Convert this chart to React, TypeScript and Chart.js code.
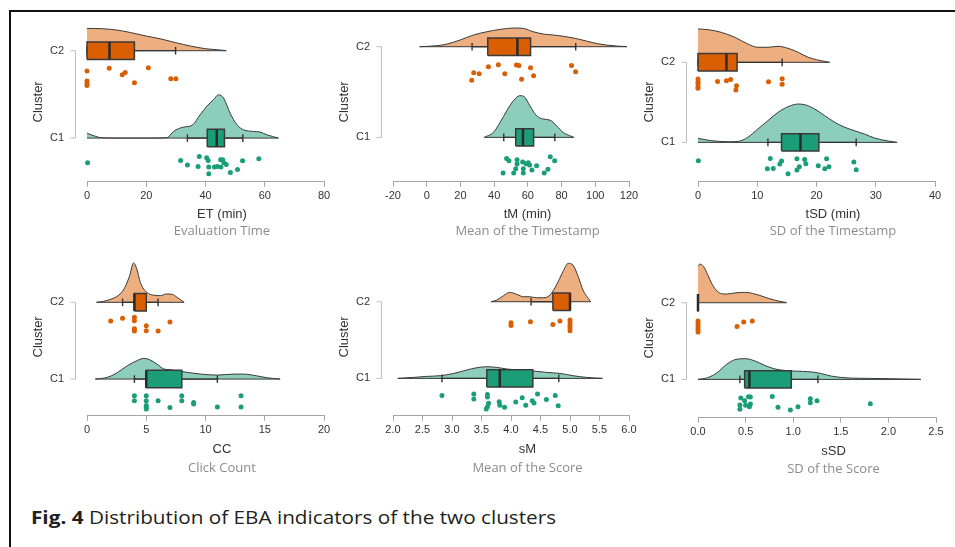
import React, { useEffect, useRef } from "react";
import { Chart, registerables } from "chart.js";
Chart.register(...registerables);

type Pt = [number, number];

// ---------- Panel 1: Evaluation Time ----------
const ET_TICKS = [0, 20, 40, 60, 80];
const ET_C2_DENS: Pt[] = [[0, 0.256], [5, 0.252], [10, 0.237], [15, 0.206], [20, 0.168], [25, 0.134], [30, 0.092], [35, 0.053], [40, 0.023], [45, 0.008], [47, 0]];
const ET_C2_BOX = [0, 0, 7.6, 16.0, 29.9]; // whisker low, q1, median, q3, whisker high
const ET_C2_X = [0, 0, 0, 0, 7.5, 11.9, 12.9, 20.7, 16.0, 28.3, 30.0];
const ET_C2_J = [0.233, 0.347, 0.374, 0.397, 0.202, 0.275, 0.248, 0.195, 0.366, 0.32, 0.32];
const ET_C1_DENS: Pt[] = [[0, 0.057], [2, 0.03], [5, 0.004], [10, 0], [20, 0], [27, 0.004], [29.2, 0.076], [32.6, 0.126], [35.4, 0.145], [38.2, 0.267], [40.4, 0.363], [42.7, 0.439], [44.4, 0.496], [46.1, 0.458], [48.3, 0.286], [50.6, 0.153], [52.8, 0.095], [56.2, 0.076], [58.4, 0.069], [60.7, 0.038], [64.6, 0]];
const ET_C1_BOX = [33.9, 40.6, 43.8, 46.4, 52.6];
const ET_C1_X = [0.2, 31.6, 33.9, 37.9, 37.5, 40.4, 40.9, 41.1, 41.1, 43.0, 44.0, 45.1, 45.8, 46.2, 47.0, 45.2, 48.4, 50.8, 52.5, 58.0];
const ET_C1_J = [0.282, 0.256, 0.309, 0.21, 0.324, 0.225, 0.256, 0.332, 0.408, 0.332, 0.324, 0.248, 0.248, 0.282, 0.302, 0.332, 0.393, 0.359, 0.26, 0.237];

// ---------- Panel 2: Mean of the Timestamp ----------
const TM_TICKS = [-20, 0, 20, 40, 60, 80, 100, 120];
const TM_C2_DENS: Pt[] = [[-4.2, 0], [6, 0.011], [12, 0.029], [19.8, 0.074], [27.7, 0.129], [35.6, 0.165], [43.5, 0.191], [51.4, 0.206], [57.3, 0.202], [63.2, 0.165], [69.1, 0.14], [75, 0.129], [82.9, 0.11], [90.8, 0.081], [98.7, 0.044], [106.6, 0.018], [118.8, 0]];
const TM_C2_BOX = [26.9, 36.2, 53.8, 61.6, 88.4];
const TM_C2_X = [26.7, 27.9, 31.1, 36.6, 42.5, 46.3, 53.2, 54.7, 56.3, 61.6, 63.4, 85.9, 88.3];
const TM_C2_J = [0.371, 0.287, 0.298, 0.221, 0.199, 0.298, 0.202, 0.206, 0.36, 0.232, 0.32, 0.206, 0.276];
const TM_C1_DENS: Pt[] = [[34.1, 0], [39.6, 0.055], [43.5, 0.165], [47.5, 0.294], [51.4, 0.404], [55.3, 0.46], [58.3, 0.441], [61.2, 0.349], [65.2, 0.239], [69.1, 0.202], [73, 0.191], [77, 0.129], [80.9, 0.055], [84.9, 0.018], [87.3, 0]];
const TM_C1_BOX = [45.7, 52.8, 57.1, 63.4, 76.0];
const TM_C1_X = [47.4, 48.8, 53.6, 45.3, 51.6, 52.8, 53.6, 56.9, 57.3, 57.3, 58.9, 60.2, 61.0, 62.4, 65.2, 69.7, 71.9, 73.3, 75.9];
const TM_C1_J = [0.232, 0.257, 0.246, 0.393, 0.393, 0.346, 0.294, 0.272, 0.346, 0.393, 0.29, 0.279, 0.305, 0.36, 0.313, 0.393, 0.353, 0.213, 0.257];

// ---------- Panel 3: SD of the Timestamp ----------
const TSD_TICKS = [0, 10, 20, 30, 40];
const TSD_C2_DENS: Pt[] = [[0, 0.417], [1.7, 0.408], [3.9, 0.375], [6.2, 0.313], [8.4, 0.229], [10.1, 0.188], [11.8, 0.188], [13.5, 0.2], [15.2, 0.175], [16.9, 0.125], [18.6, 0.063], [20, 0.033], [22.2, 0]];
const TSD_C2_BOX = [0, 0, 4.8, 6.6, 14.2];
const TSD_C2_X = [0, 0, 0, 0, 0, 3.3, 4.8, 5.5, 6.5, 6.4, 11.9, 14.2, 14.2];
const TSD_C2_J = [0.208, 0.242, 0.271, 0.304, 0.325, 0.238, 0.229, 0.213, 0.292, 0.346, 0.242, 0.204, 0.275];
const TSD_C1_DENS: Pt[] = [[0, 0.05], [2.3, 0.021], [5.1, 0.008], [6.8, 0.0125], [8.4, 0.063], [10.1, 0.167], [11.8, 0.271], [13.5, 0.375], [15.2, 0.446], [16.9, 0.479], [18, 0.471], [19.7, 0.417], [21.4, 0.333], [23.1, 0.25], [24.8, 0.188], [26.4, 0.146], [28.1, 0.104], [29.8, 0.054], [32.1, 0.017], [33.6, 0]];
const TSD_C1_BOX = [11.8, 14.1, 17.3, 20.4, 26.7];
const TSD_C1_X = [0.06, 12.2, 11.7, 12.7, 13.8, 14.1, 15.2, 16.7, 16.7, 17.1, 18.0, 18.2, 20.3, 21.7, 21.4, 22.1, 26.3, 26.7];
const TSD_C1_J = [0.229, 0.2, 0.329, 0.325, 0.271, 0.233, 0.392, 0.204, 0.346, 0.304, 0.213, 0.267, 0.292, 0.204, 0.329, 0.304, 0.246, 0.342];

// ---------- Panel 4: Click Count ----------
const CC_TICKS = [0, 5, 10, 15, 20];
const CC_C2_DENS: Pt[] = [[0.8, 0], [1.4, 0.013], [2.2, 0.052], [2.8, 0.109], [3.2, 0.196], [3.6, 0.348], [3.93, 0.513], [4.2, 0.435], [4.5, 0.261], [4.9, 0.152], [5.5, 0.096], [6.2, 0.087], [6.7, 0.109], [7.2, 0.104], [7.6, 0.065], [8.2, 0]];
const CC_C2_BOX = [3, 4, 4, 5, 6];
const CC_C2_X = [2, 3, 4, 4, 4, 4, 5, 5, 6, 7];
const CC_C2_J = [0.243, 0.209, 0.196, 0.239, 0.343, 0.374, 0.304, 0.37, 0.374, 0.257];
const CC_C1_DENS: Pt[] = [[0.7, 0], [1.7, 0.022], [2.5, 0.078], [3.4, 0.174], [4.2, 0.239], [4.8, 0.27], [5.3, 0.252], [5.9, 0.196], [6.5, 0.13], [7, 0.122], [8.1, 0.096], [9.6, 0.065], [11, 0.052], [12.4, 0.065], [13.2, 0.065], [14.3, 0.043], [15.2, 0.017], [16.3, 0]];
const CC_C1_BOX = [4, 5, 5, 8, 11];
const CC_C1_X = [4, 4, 5, 5, 5, 5, 5, 6, 7, 8, 8, 9, 9, 11, 13, 13];
const CC_C1_J = [0.217, 0.283, 0.217, 0.283, 0.343, 0.37, 0.391, 0.283, 0.37, 0.217, 0.283, 0.304, 0.326, 0.365, 0.217, 0.365];

// ---------- Panel 5: Mean of the Score ----------
const SM_TICKS = [2.0, 2.5, 3.0, 3.5, 4.0, 4.5, 5.0, 5.5, 6.0];
const SM_C2_DENS: Pt[] = [[3.66, 0], [3.76, 0.022], [3.87, 0.078], [3.98, 0.122], [4.1, 0.096], [4.21, 0.065], [4.32, 0.065], [4.43, 0.052], [4.55, 0.052], [4.66, 0.087], [4.77, 0.217], [4.88, 0.391], [4.97, 0.5], [5.05, 0.478], [5.14, 0.326], [5.22, 0.152], [5.31, 0.043], [5.35, 0]];
const SM_C2_BOX = [4.34, 4.71, 5.0, 5.0, 5.0];
const SM_C2_X = [4.0, 4.0, 4.33, 4.71, 4.83, 5, 5, 5, 5, 5];
const SM_C2_J = [0.274, 0.309, 0.261, 0.296, 0.252, 0.239, 0.274, 0.309, 0.343, 0.378];
const SM_C1_DENS: Pt[] = [[2.08, 0], [2.35, 0.013], [2.57, 0.026], [2.8, 0.035], [3.03, 0.065], [3.25, 0.109], [3.42, 0.139], [3.59, 0.152], [3.76, 0.143], [3.93, 0.122], [4.15, 0.109], [4.38, 0.096], [4.6, 0.078], [4.83, 0.065], [5.05, 0.035], [5.28, 0.013], [5.55, 0]];
const SM_C1_BOX = [2.83, 3.59, 3.81, 4.37, 4.81];
const SM_C1_X = [2.83, 3.37, 3.37, 3.6, 3.6, 3.62, 3.58, 3.6, 3.8, 3.81, 3.89, 4.08, 4.19, 4.25, 4.36, 4.39, 4.45, 4.6, 4.75, 4.8];
const SM_C1_J = [0.222, 0.204, 0.27, 0.209, 0.243, 0.326, 0.4, 0.37, 0.304, 0.352, 0.378, 0.309, 0.252, 0.352, 0.291, 0.322, 0.204, 0.274, 0.222, 0.357];

// ---------- Panel 6: SD of the Score ----------
const SSD_TICKS = [0.0, 0.5, 1.0, 1.5, 2.0, 2.5];
const SSD_C2_DENS: Pt[] = [[0, 0.478], [0.02, 0.504], [0.06, 0.47], [0.1, 0.37], [0.15, 0.239], [0.2, 0.152], [0.25, 0.117], [0.3, 0.113], [0.4, 0.13], [0.5, 0.135], [0.6, 0.113], [0.7, 0.074], [0.8, 0.035], [0.9, 0.009], [0.93, 0]];
const SSD_C2_BOX = [0, 0, 0, 0, 0];
const SSD_C2_X = [0, 0, 0, 0, 0, 0.41, 0.48, 0.57];
const SSD_C2_J = [0.239, 0.278, 0.313, 0.348, 0.383, 0.309, 0.252, 0.239];
const SSD_C1_DENS: Pt[] = [[0, 0], [0.1, 0.022], [0.2, 0.087], [0.3, 0.196], [0.4, 0.261], [0.5, 0.27], [0.6, 0.239], [0.7, 0.183], [0.8, 0.139], [0.9, 0.117], [1.0, 0.109], [1.1, 0.104], [1.2, 0.096], [1.3, 0.074], [1.4, 0.043], [1.5, 0.026], [1.6, 0.017], [1.8, 0.013], [2.0, 0.009], [2.2, 0.004], [2.34, 0]];
const SSD_C1_BOX = [0.44, 0.49, 0.54, 0.98, 1.26];
const SSD_C1_X = [0.45, 0.44, 0.44, 0.49, 0.53, 0.55, 0.55, 0.5, 0.54, 0.78, 0.84, 0.97, 1.05, 1.18, 1.18, 1.25, 1.81];
const SSD_C1_J = [0.243, 0.335, 0.391, 0.278, 0.226, 0.23, 0.322, 0.339, 0.357, 0.222, 0.365, 0.4, 0.357, 0.252, 0.304, 0.278, 0.317];

const CATEGORIES = ["C1", "C2"];
const X_TITLES = ["ET (min)", "tM (min)", "tSD (min)", "CC", "sM", "sSD"];
const SUBTITLES = ["Evaluation Time", "Mean of the Timestamp", "SD of the Timestamp", "Click Count", "Mean of the Score", "SD of the Score"];
const CAPTION_BOLD = "Fig. 4";
const CAPTION_TEXT = "Distribution of EBA indicators of the two clusters";

// ---------- styles / layout ----------
const FONT = '"Liberation Sans", Arial, Helvetica, sans-serif';
const SUB_FONT = '"Open Sans", "Liberation Sans", sans-serif';
const ORANGE = "#D95F02";
const ORANGE_LIGHT = "#EDAF80";
const TEAL = "#1B9E77";
const TEAL_LIGHT = "#8DCEBB";
const OUTLINE = "#3a3a3a";

type Group = { dens: Pt[]; box: number[]; xs: number[]; js: number[] };
type PanelDef = {
  ticks: number[]; dec: number; c2: Group; c1: Group;
  px0: number; px1: number; yC2: number; yC1: number; yAx: number; top: number; hx: number; tPad: number;
};

const PANELS: PanelDef[] = [
  { ticks: ET_TICKS, dec: 0, c2: { dens: ET_C2_DENS, box: ET_C2_BOX, xs: ET_C2_X, js: ET_C2_J }, c1: { dens: ET_C1_DENS, box: ET_C1_BOX, xs: ET_C1_X, js: ET_C1_J },
    px0: 87, px1: 324, yC2: 50.7, yC1: 138, yAx: 181.7, top: 12, hx: 25, tPad: 1 },
  { ticks: TM_TICKS, dec: 0, c2: { dens: TM_C2_DENS, box: TM_C2_BOX, xs: TM_C2_X, js: TM_C2_J }, c1: { dens: TM_C1_DENS, box: TM_C1_BOX, xs: TM_C1_X, js: TM_C1_J },
    px0: 393, px1: 629, yC2: 46.7, yC1: 137.3, yAx: 181.7, top: 12, hx: 25, tPad: 1 },
  { ticks: TSD_TICKS, dec: 0, c2: { dens: TSD_C2_DENS, box: TSD_C2_BOX, xs: TSD_C2_X, js: TSD_C2_J }, c1: { dens: TSD_C1_DENS, box: TSD_C1_BOX, xs: TSD_C1_X, js: TSD_C1_J },
    px0: 698, px1: 935, yC2: 62.3, yC1: 142.3, yAx: 181.7, top: 12, hx: 25, tPad: 1 },
  { ticks: CC_TICKS, dec: 0, c2: { dens: CC_C2_DENS, box: CC_C2_BOX, xs: CC_C2_X, js: CC_C2_J }, c1: { dens: CC_C1_DENS, box: CC_C1_BOX, xs: CC_C1_X, js: CC_C1_J },
    px0: 87, px1: 324, yC2: 302.3, yC1: 379, yAx: 415.7, top: 248, hx: 26, tPad: 3 },
  { ticks: SM_TICKS, dec: 1, c2: { dens: SM_C2_DENS, box: SM_C2_BOX, xs: SM_C2_X, js: SM_C2_J }, c1: { dens: SM_C1_DENS, box: SM_C1_BOX, xs: SM_C1_X, js: SM_C1_J },
    px0: 393, px1: 629, yC2: 301.7, yC1: 378.3, yAx: 415.7, top: 248, hx: 26, tPad: 3 },
  { ticks: SSD_TICKS, dec: 1, c2: { dens: SSD_C2_DENS, box: SSD_C2_BOX, xs: SSD_C2_X, js: SSD_C2_J }, c1: { dens: SSD_C1_DENS, box: SSD_C1_BOX, xs: SSD_C1_X, js: SSD_C1_J },
    px0: 698, px1: 936, yC2: 302.7, yC1: 379.3, yAx: 417.7, top: 248, hx: 26, tPad: 2 },
];

const Y_AXIS_W = 60;
const RIGHT_W = 93;
const PAD_TOP = 10;
const LINE_H = 13 * 1.2;

const offsetAxis = {
  id: "offsetAxis",
  afterDraw(chart: any) {
    const ctx = chart.ctx;
    const ys = chart.scales.y;
    const x = Math.round(chart.chartArea.left - 12.5) + 0.5;
    const y1 = ys.getPixelForValue(1);
    const y0 = ys.getPixelForValue(0);
    ctx.save();
    ctx.strokeStyle = "#bdbdbd";
    ctx.lineWidth = 1;
    ctx.beginPath();
    ctx.moveTo(x, y1);
    ctx.lineTo(x, y0);
    ctx.moveTo(x - 5, y1);
    ctx.lineTo(x, y1);
    ctx.moveTo(x - 5, y0);
    ctx.lineTo(x, y0);
    ctx.stroke();
    ctx.restore();
  },
};

function groupDatasets(b: number, g: Group, dark: string, light: string, unitPx: number) {
  const h = 8.7 / unitPx;
  const c = 3.8 / unitPx;
  const [wl, q1, md, q3, wh] = g.box;
  const line = (data: any[], color: string, width: number, extra: any = {}) => ({
    data, showLine: true, borderColor: color, borderWidth: width, pointRadius: 0, fill: false, clip: false, ...extra,
  });
  const first = g.dens[0][0];
  const last = g.dens[g.dens.length - 1][0];
  return [
    line(g.dens.map(([x, v]) => ({ x, y: b + v })), OUTLINE, 1, {
      fill: { value: b }, backgroundColor: light, tension: 0.4, cubicInterpolationMode: "monotone",
    }),
    line([{ x: first, y: b }, { x: last, y: b }], OUTLINE, 1),
    line([{ x: wl, y: b }, { x: q1, y: b }], "#333", 1.3),
    line([{ x: q3, y: b }, { x: wh, y: b }], "#333", 1.3),
    line([{ x: wl, y: b - c }, { x: wl, y: b + c }], "#333", 1.4),
    line([{ x: wh, y: b - c }, { x: wh, y: b + c }], "#333", 1.4),
    line([{ x: q1, y: b + h }, { x: q3, y: b + h }], "rgba(0,0,0,0)", 0, { fill: { value: b - h }, backgroundColor: dark }),
    line([{ x: q1, y: b - h }, { x: q3, y: b - h }, { x: q3, y: b + h }, { x: q1, y: b + h }, { x: q1, y: b - h }], OUTLINE, 1.5, { borderJoinStyle: "miter" }),
    line([{ x: md, y: b - h }, { x: md, y: b + h }], "#2a2a2a", 2.5),
    {
      data: g.xs.map((x, i) => ({ x, y: b - g.js[i] })), showLine: false, pointRadius: 2.5,
      backgroundColor: dark, borderColor: dark, pointBorderWidth: 0, clip: false,
    },
  ];
}

function Panel({ idx }: { idx: number }) {
  const ref = useRef<HTMLCanvasElement | null>(null);
  const p = PANELS[idx];
  const left = Math.round(p.px0 - Y_AXIS_W);
  const width = Math.round(p.px1 - p.px0 + Y_AXIS_W + RIGHT_W);
  const bottom = p.yAx + p.hx + LINE_H + LINE_H + p.tPad;
  const height = Math.round(bottom - p.top);

  useEffect(() => {
    const chartTop = p.top + PAD_TOP;
    const unitPx = p.yC1 - p.yC2;
    const ymax = 1 + (p.yC2 - chartTop) / unitPx;
    const ymin = -(p.yAx - p.yC1) / unitPx;
    const ds = [
      ...groupDatasets(1, p.c2, ORANGE, ORANGE_LIGHT, unitPx),
      ...groupDatasets(0, p.c1, TEAL, TEAL_LIGHT, unitPx),
    ];
    const n = ds.length;
    ds.forEach((d: any, i) => { d.order = n - i; });
    const chart = new Chart(ref.current as HTMLCanvasElement, {
      type: "scatter",
      data: { datasets: ds as any },
      options: {
        responsive: false,
        animation: false,
        events: [],
        devicePixelRatio: 1,
        layout: { padding: { top: PAD_TOP, left: 0, right: 0, bottom: 0 }, autoPadding: false },
        plugins: {
          legend: { display: false },
          tooltip: { enabled: false },
          subtitle: {
            display: true, text: X_TITLES[idx], position: "bottom", color: "#333",
            font: { family: FONT, size: 13 }, padding: { top: 0, bottom: 0 },
          },
          title: {
            display: true, text: SUBTITLES[idx], position: "bottom", color: "#8c8c8c",
            font: { family: SUB_FONT, size: 13, weight: "normal" }, padding: { top: p.tPad, bottom: 0 },
          },
        },
        scales: {
          x: {
            type: "linear",
            min: p.ticks[0],
            max: p.ticks[p.ticks.length - 1],
            afterBuildTicks: (s: any) => { s.ticks = p.ticks.map((v) => ({ value: v })); },
            afterFit: (s: any) => { s.height = p.hx; },
            ticks: {
              callback: (v: any) => Number(v).toFixed(p.dec),
              color: "#333", font: { family: FONT, size: 11 }, padding: 3, autoSkip: false, maxRotation: 0,
            },
            grid: { display: true, drawOnChartArea: false, drawTicks: true, tickLength: 5, color: "#a6a6a6", tickColor: "#a6a6a6" },
            border: { display: true, color: "#a6a6a6", width: 1 },
          },
          y: {
            type: "linear",
            min: ymin,
            max: ymax,
            afterBuildTicks: (s: any) => { s.ticks = [{ value: 0 }, { value: 1 }]; },
            afterFit: (s: any) => { s.width = Y_AXIS_W; },
            ticks: {
              callback: (v: any) => CATEGORIES[Math.round(Number(v))],
              color: "#333", font: { family: FONT, size: 11 }, padding: 3,
            },
            grid: { display: true, drawOnChartArea: false, drawTicks: true, tickLength: 20, tickColor: "rgba(0,0,0,0)", color: "rgba(0,0,0,0)" },
            border: { display: false },
            title: { display: true, text: "Cluster", color: "#333", font: { family: FONT, size: 13 }, padding: { top: 4, bottom: 0 } },
          },
          r: {
            type: "linear",
            position: "right",
            display: true,
            grid: { display: false },
            ticks: { display: false },
            border: { display: false },
            afterFit: (s: any) => { s.width = RIGHT_W; },
          },
        },
      } as any,
      plugins: [offsetAxis],
    });
    return () => chart.destroy();
  }, []);

  return (
    <canvas
      ref={ref}
      width={width}
      height={height}
      style={{ position: "absolute", left, top: p.top, width, height }}
    />
  );
}

export default function App() {
  return (
    <div style={{ position: "fixed", left: 0, top: 0, width: 955, height: 547, overflow: "hidden", background: "#fff" }}>
      <div style={{ position: "absolute", left: 9, top: 10, width: 980, height: 560, borderLeft: "2px solid #111", borderTop: "2px solid #111" }} />
      {PANELS.map((_, i) => <Panel key={i} idx={i} />)}
      <div
        style={{
          position: "absolute", left: 31, top: 508, whiteSpace: "nowrap",
          font: '18.5px "Open Sans", "Liberation Sans", sans-serif', lineHeight: "18.5px", color: "#231f20",
          transform: "scaleX(1.12)", transformOrigin: "0 50%",
        }}
      >
        <b>{CAPTION_BOLD}</b> {CAPTION_TEXT}
      </div>
    </div>
  );
}
